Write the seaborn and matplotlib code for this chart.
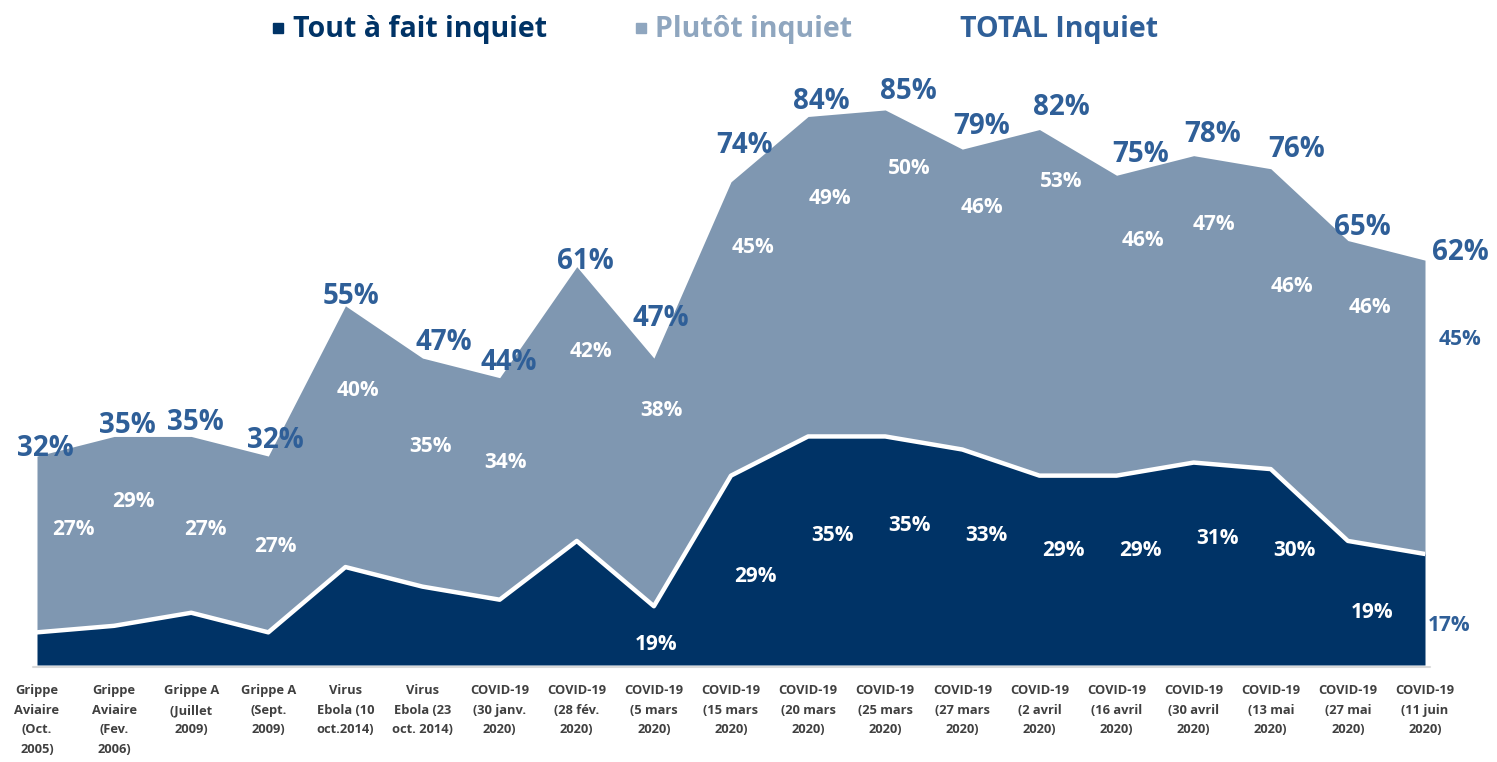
import numpy as np
import pandas as pd
import matplotlib
matplotlib.use("Agg")
import matplotlib.pyplot as plt
from matplotlib.lines import Line2D
import seaborn as sns

# ── Data ─────────────────────────────────────────────────────
categories = [
    "Grippe\nAviaire\n(Oct.\n2005)", "Grippe\nAviaire\n(Fev.\n2006)",
    "Grippe A\n(Juillet\n2009)", "Grippe A\n(Sept.\n2009)",
    "Virus\nEbola (10\noct.2014)", "Virus\nEbola (23\noct. 2014)",
    "COVID-19\n(30 janv.\n2020)", "COVID-19\n(28 fév.\n2020)",
    "COVID-19\n(5 mars\n2020)", "COVID-19\n(15 mars\n2020)",
    "COVID-19\n(20 mars\n2020)", "COVID-19\n(25 mars\n2020)",
    "COVID-19\n(27 mars\n2020)", "COVID-19\n(2 avril\n2020)",
    "COVID-19\n(16 avril\n2020)", "COVID-19\n(30 avril\n2020)",
    "COVID-19\n(13 mai\n2020)", "COVID-19\n(27 mai\n2020)",
    "COVID-19\n(11 juin\n2020)",
]
tout_a_fait = [5, 6, 8, 5, 15, 12, 10, 19, 9, 29, 35, 35, 33, 29, 29, 31, 30, 19, 17]
plutot      = [27, 29, 27, 27, 40, 35, 34, 42, 38, 45, 49, 50, 46, 53, 46, 47, 46, 46, 45]
total       = [32, 35, 35, 32, 55, 47, 44, 61, 47, 74, 84, 85, 79, 82, 75, 78, 76, 65, 62]
# labels shown on the dark band (first ones hidden in the original)
dark_labels = ["", "", "", "", "", "", "", "", "19%", "29%", "35%", "35%",
               "33%", "29%", "29%", "31%", "30%", "19%", "17%"]

# label nudges to follow the hand-placed labels of the original
plutot_nudge = [2.2, 4.5, -0.8, -0.3, 7, 4, 4, 8, 11, 12.5, 12, 16, 14, 18.5, 13, 13, 5, 12.7, 10.3]
plutot_dx    = [36, 19, 14, 7, 12, 8, 6, 14, 8, 22, 22, 24, 20, 22, 26, 20, 21, 22, 35]
dark_nudge   = [0, 0, 0, 0, 0, 0, 0, 0, -1.4, -1, 2.4, 3.9, 3.4, 3, 3, 3.9, 2.5, -1.4, -2.4]
total_dx = [8, 13, 4, 7, 6, 21, 9, 9, 7, 14, 13, 23, 19, 22, 24, 19, 26, 14, 35]
total_dy = [8, 11, 14, 16, 9, 16, 15, 5, 40, 36, 15, 18, 23, 22, 21, 21, 19, 13, 8]

df = pd.DataFrame({"x": np.arange(len(categories)), "tout": tout_a_fait,
                   "plutot": plutot, "total": total})

# ── Style ────────────────────────────────────────────────────
DARK   = "#003366"
LIGHT  = "#7F97B1"
LEG_LT = "#8FA6BF"
BLUE   = "#2F5F98"
TICK   = "#404040"
PX = 0.72  # pixels -> points at dpi 100

sns.set_theme(style="white")
plt.rcParams["font.family"] = ["Open Sans", "DejaVu Sans"]

fig = plt.figure(figsize=(14.97, 7.62), dpi=100)
ax = fig.add_axes([37 / 1497, 97 / 762, 1388 / 1497, 653 / 762])
ax.set_facecolor("none")

x = df["x"].values
ax.fill_between(x, 0, df["tout"], color=DARK, lw=0, zorder=2)
ax.fill_between(x, df["tout"], df["tout"] + df["plutot"], color=LIGHT, lw=0, zorder=1)
sns.lineplot(data=df, x="x", y="tout", color="white", lw=3.2, ax=ax, zorder=3)

ax.set_xlim(0, len(categories) - 1)
ax.set_ylim(0, 100)
for s in ax.spines.values():
    s.set_visible(False)
ax.set_yticks([])
ax.set_ylabel("")
ax.set_xlabel("")
ax.set_xticks(x)
ax.set_xticklabels(categories, fontsize=9.3, fontweight="bold", color=TICK,
                   linespacing=1.65)
ax.tick_params(axis="x", length=0, pad=14)

# baseline
ax.plot([-0.05, len(categories) - 1 + 0.07], [-0.3, -0.3], color="#D9D9D9",
        lw=1.5, clip_on=False, zorder=4)

# ── Labels ───────────────────────────────────────────────────
last = len(categories) - 1
for i in range(len(categories)):
    ym = tout_a_fait[i] + plutot[i] / 2 + plutot_nudge[i]
    ax.annotate(f"{plutot[i]}%", (x[i], ym), xytext=(plutot_dx[i] * PX, 0),
                textcoords="offset points", ha="center", va="center",
                fontsize=15, fontweight="bold",
                color=BLUE if i == last else "white", zorder=5,
                annotation_clip=False)
    if dark_labels[i]:
        yd = tout_a_fait[i] / 2 + dark_nudge[i]
        if i == 8:
            yd = 3.1
        ax.annotate(dark_labels[i], (x[i], yd),
                    xytext=((2 if i == 8 else 24) * PX, 0),
                    textcoords="offset points", ha="center", va="center",
                    fontsize=15, fontweight="bold",
                    color=BLUE if i == last else "white", zorder=5,
                    annotation_clip=False)
    ax.annotate(f"{total[i]}%", (x[i], total[i]),
                xytext=(total_dx[i] * PX, total_dy[i] * PX),
                textcoords="offset points", ha="center", va="center",
                fontsize=20, fontweight="bold", color=BLUE, zorder=5,
                annotation_clip=False)

# ── Legend ───────────────────────────────────────────────────
handles = [
    Line2D([], [], marker="s", ls="none", color=DARK, markersize=7.5),
    Line2D([], [], marker="s", ls="none", color=LEG_LT, markersize=7.5),
    Line2D([], [], ls="none"),
]
leg = fig.legend(handles, ["Tout à fait inquiet", "Plutôt inquiet", "TOTAL Inquiet"],
                 loc="center", bbox_to_anchor=(0.477, 1 - 30 / 762), ncol=3,
                 frameon=False, handletextpad=0.2, handlelength=0.6,
                 columnspacing=3.0,
                 prop={"size": 20.5, "weight": "bold"},
                 labelcolor=[DARK, LEG_LT, BLUE])

fig.savefig("out.png", dpi=100)
